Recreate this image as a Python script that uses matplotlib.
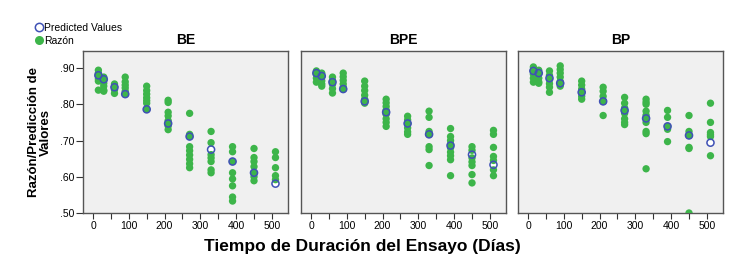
import matplotlib
matplotlib.use("Agg")
import matplotlib.pyplot as plt
from matplotlib.lines import Line2D

plt.rcParams["font.family"] = ["Liberation Sans", "DejaVu Sans"]

# sampling times (days)
dias = [15, 30, 60, 90, 150, 210, 270, 330, 390, 450, 510]

# observed ratios per time point, one list per day
razon_be = [
    [0.894, 0.886, 0.878, 0.870, 0.864, 0.839],
    [0.875, 0.866, 0.858, 0.850, 0.839, 0.836],
    [0.856, 0.848, 0.840, 0.830],
    [0.875, 0.862, 0.853, 0.845, 0.836, 0.828],
    [0.850, 0.838, 0.828, 0.818, 0.810, 0.803, 0.786],
    [0.811, 0.805, 0.778, 0.768, 0.755, 0.747, 0.740, 0.730],
    [0.775, 0.717, 0.711, 0.683, 0.672, 0.660, 0.648, 0.636, 0.625],
    [0.725, 0.694, 0.661, 0.652, 0.642, 0.619, 0.611],
    [0.683, 0.669, 0.642, 0.611, 0.594, 0.575, 0.544, 0.533],
    [0.678, 0.653, 0.642, 0.628, 0.611, 0.600, 0.589],
    [0.669, 0.653, 0.625, 0.603, 0.592],
]
razon_bpe = [
    [0.892, 0.886, 0.882, 0.872, 0.861],
    [0.886, 0.878, 0.875, 0.865, 0.856, 0.850],
    [0.875, 0.865, 0.861, 0.855, 0.843, 0.831],
    [0.886, 0.876, 0.866, 0.856, 0.847, 0.842],
    [0.864, 0.850, 0.838, 0.825, 0.814, 0.808, 0.803],
    [0.814, 0.804, 0.794, 0.784, 0.778, 0.772, 0.760, 0.750, 0.739],
    [0.767, 0.757, 0.747, 0.735, 0.724, 0.717],
    [0.781, 0.764, 0.725, 0.717, 0.683, 0.675, 0.631],
    [0.733, 0.711, 0.700, 0.690, 0.680, 0.668, 0.658, 0.647, 0.603],
    [0.683, 0.673, 0.652, 0.641, 0.631, 0.606, 0.583],
    [0.728, 0.717, 0.681, 0.656, 0.645, 0.619, 0.603],
]
razon_bp = [
    [0.903, 0.893, 0.883, 0.872, 0.861],
    [0.894, 0.884, 0.872, 0.862, 0.858],
    [0.892, 0.880, 0.868, 0.857, 0.847, 0.833],
    [0.906, 0.896, 0.886, 0.875, 0.863, 0.858, 0.850],
    [0.864, 0.853, 0.842, 0.833, 0.822, 0.814],
    [0.847, 0.836, 0.822, 0.808, 0.769],
    [0.819, 0.803, 0.790, 0.783, 0.775, 0.760, 0.750, 0.744],
    [0.814, 0.806, 0.800, 0.781, 0.770, 0.761, 0.750, 0.725, 0.719, 0.622],
    [0.783, 0.764, 0.739, 0.731, 0.697],
    [0.769, 0.725, 0.714, 0.681, 0.678, 0.500],
    [0.803, 0.750, 0.722, 0.716, 0.711, 0.658],
]

# predicted values
pred_be = [0.880, 0.869, 0.847, 0.828, 0.786, 0.747, 0.711, 0.675, 0.642, 0.611, 0.581]
pred_bpe = [0.886, 0.878, 0.861, 0.842, 0.808, 0.778, 0.747, 0.717, 0.686, 0.661, 0.633]
pred_bp = [0.892, 0.886, 0.872, 0.858, 0.833, 0.808, 0.783, 0.761, 0.739, 0.714, 0.694]

paneles = ["BE", "BPE", "BP"]
razones = [razon_be, razon_bpe, razon_bp]
predichos = [pred_be, pred_bpe, pred_bp]

verde = "#3db54a"
azul = "#3f51b5"

fig = plt.figure(figsize=(7.48, 2.76), dpi=100)

lefts = [83, 301, 518]
for i, name in enumerate(paneles):
    ax = fig.add_axes([lefts[i] / 748, 1 - 213 / 276, 205 / 748, 162 / 276])
    ax.set_facecolor("#f0f0f0")

    xs, ys = [], []
    for t, vals in zip(dias, razones[i]):
        xs += [t] * len(vals)
        ys += vals

    ax.scatter(dias, predichos[i], s=26, marker="o", facecolor="white",
               edgecolor="none", zorder=2)
    ax.scatter(xs, ys, s=28, color=verde, edgecolor="none", zorder=3)
    ax.scatter(dias, predichos[i], s=26, marker="o", facecolor="none",
               edgecolor=azul, linewidths=1.1, zorder=4)

    ax.set_xlim(-28, 545)
    ax.set_ylim(0.50, 0.947)
    ax.set_xticks([0, 100, 200, 300, 400, 500])
    ax.set_xticks([50, 150, 250, 350, 450], minor=True)
    ax.tick_params(axis="x", which="both", length=4, width=0.8, color="#333333",
                   labelsize=7.5, pad=2)
    ax.set_title(name, fontsize=10, fontweight="bold", pad=5)

    if i == 0:
        ax.set_yticks([0.5, 0.6, 0.7, 0.8, 0.9])
        ax.set_yticklabels([".50", ".60", ".70", ".80", ".90"])
        ax.tick_params(axis="y", length=5, width=0.8, color="#333333",
                       labelsize=7.5, pad=1)
    else:
        ax.set_yticks([])

    for sp in ax.spines.values():
        sp.set_color("#555555")
        sp.set_linewidth(1.0)

fig.text(40 / 748, 1 - 132 / 276, "Razón/Predicción de\nValores", rotation=90,
         ha="center", va="center", fontsize=9.5, fontweight="bold",
         multialignment="center", linespacing=1.0)
fig.text(362 / 748, 1 - 246 / 276, "Tiempo de Duración del Ensayo (Días)",
         ha="center", va="center", fontsize=12.5, fontweight="bold")

handles = [
    Line2D([], [], linestyle="none", marker="o", markersize=6,
           markerfacecolor="white", markeredgecolor=azul, markeredgewidth=1.1),
    Line2D([], [], linestyle="none", marker="o", markersize=6.5,
           markerfacecolor=verde, markeredgecolor="none"),
]
fig.legend(handles, ["Predicted Values", "Razón"], loc="upper left",
           bbox_to_anchor=(35 / 748, 1 - 23 / 276), frameon=False, fontsize=7.5,
           handlelength=0.8, handletextpad=0.1, labelspacing=0.25,
           borderpad=0, borderaxespad=0)

fig.savefig("out.png", dpi=100)
